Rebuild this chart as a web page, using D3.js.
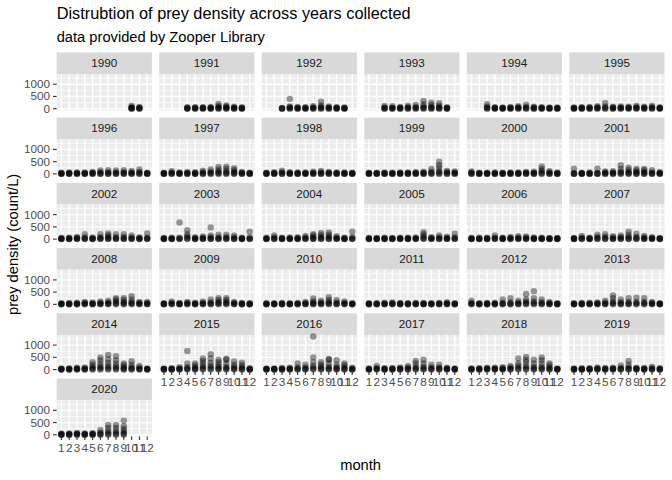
<!DOCTYPE html>
<html>
<head>
    <meta charset="utf-8">
    <title>Prey density by year</title>
    <script src="https://d3js.org/d3.v7.min.js"></script>
    <style>
        body { margin: 0; background: #fff; }
        text { font-family: "Liberation Sans", Arial, Helvetica, sans-serif; }
    </style>
</head>
<body>
    <svg id="chart" width="672" height="480"></svg>

    <script>
        // months on the x axis and y axis breaks
        const months = [1, 2, 3, 4, 5, 6, 7, 8, 9, 10, 11, 12];
        const yBreaks = [0, 500, 1000];
        const yMinorBreaks = [250, 750, 1250];
        const years = [1990, 1991, 1992, 1993, 1994, 1995, 1996, 1997, 1998, 1999, 2000,
                       2001, 2002, 2003, 2004, 2005, 2006, 2007, 2008, 2009, 2010,
                       2011, 2012, 2013, 2014, 2015, 2016, 2017, 2018, 2019, 2020];

        // prey density (count/L) samples, one array per month (Jan..Dec)
        const d1990 = [[],[],[],[],[],[],[],[],[],[0,5,15,30,60,120],[0,5,15,35,70],[]];
        const d1991 = [[],[],[],[0,5,15,30,55],[0,5,20,40,60],[0,10,20,35,60],[0,5,15,40,70],[0,10,30,60,110,190],[0,10,25,50,90,130],[0,5,20,45,80],[0,5,15,30,60],[]];
        const d1992 = [[],[],[0,5,10,25],[0,10,30,60,90,400],[0,5,20,40,70],[0,5,15,35,60],[0,10,25,50,100],[0,10,30,70,130,280],[0,10,25,50,90],[0,5,15,40,60],[0,5,15,30,50],[]];
        const d1993 = [[],[],[0,5,20,50,110],[0,5,20,40,100],[0,5,15,35,70],[0,10,25,60,120],[0,10,30,70,150],[0,15,40,90,180,320],[0,10,30,70,150,240],[0,10,30,60,120,220],[0,5,15,30,60],[]];
        const d1994 = [[],[],[0,10,40,80,180],[0,5,20,40,60],[0,5,15,30,50],[0,5,20,40,70],[0,10,30,60,100],[0,10,30,70,160],[0,5,20,45,80],[0,5,15,35,60],[0,5,15,30,50],[0,5,10,30,50]];
        const d1995 = [[0,5,15,30,50],[0,5,15,35,60],[0,5,20,40,70],[0,10,30,60,100],[0,10,40,90,230],[0,10,25,50,80],[0,10,25,50,90],[0,10,25,50,80],[0,10,30,60,120],[0,5,20,45,80],[0,10,30,60,120],[0,5,15,30,60]];
        const d1996 = [[0,5,15,30,50],[0,5,15,35,60],[0,5,20,40,60],[0,5,15,35,60],[0,10,25,50,80],[0,10,30,70,140],[0,10,30,70,150],[0,10,30,60,140],[0,10,35,70,150],[0,10,30,60,120],[0,10,40,80,180],[0,5,15,30,50]];
        const d1997 = [[0,5,15,30,50],[0,10,30,60,110],[0,5,20,40,60],[0,5,20,40,80],[0,5,15,35,70],[0,10,30,70,130],[0,15,40,90,180],[0,20,50,100,180,280],[0,20,50,100,200,290],[0,15,40,90,160,230],[0,10,25,50,80],[0,5,15,30,50]];
        const d1998 = [[0,5,15,30,50],[0,5,20,40,70],[0,10,30,70,130],[0,5,20,40,70],[0,5,15,35,60],[0,5,15,35,60],[0,10,25,50,90],[0,10,30,60,120],[0,10,25,50,80],[0,5,20,40,60],[0,5,15,35,60],[0,5,15,30,50]];
        const d1999 = [[0,5,15,30,50],[0,5,15,30,50],[0,5,15,35,60],[0,5,15,30,50],[0,5,20,40,60],[0,5,15,35,60],[0,10,20,40,70],[0,10,25,50,90],[0,15,40,90,200],[0,20,60,120,250,350,500],[0,10,40,80,120],[0,10,30,60,100]];
        const d2000 = [[0,10,30,60,100],[0,5,15,30,50],[0,5,15,30,50],[0,5,15,35,60],[0,5,15,30,50],[0,5,20,40,60],[0,5,15,35,60],[0,10,25,50,80],[0,10,25,50,90],[0,20,60,120,200,300],[0,10,30,60,110],[0,5,15,30,60]];
        const d2001 = [[0,5,15,30,210],[0,5,15,30,50],[0,5,15,30,60],[0,5,20,40,210],[0,10,30,60,100],[0,10,30,60,110],[0,20,50,100,200,350],[0,15,40,80,160,250],[0,10,35,70,140,200],[0,10,35,70,150,200],[0,10,30,60,150],[0,5,20,40,80]];
        const d2002 = [[0,5,15,30,50],[0,5,15,35,60],[0,10,25,50,90],[0,10,30,70,200],[0,5,20,40,70],[0,10,40,80,200],[0,15,40,90,160,230],[0,10,40,80,200],[0,10,40,90,200],[0,10,30,70,150],[0,5,20,40,80],[0,10,30,60,230]];
        const d2003 = [[0,5,15,30,50],[0,5,15,30,60],[0,10,30,60,680],[0,20,60,120,200,360],[0,5,20,40,80],[0,10,25,60,110],[0,10,30,80,150,480],[0,10,30,70,180],[0,10,35,80,180],[0,10,30,70,150],[0,5,15,35,60],[0,10,30,70,300]];
        const d2004 = [[0,5,15,30,60],[0,10,30,70,150],[0,5,15,35,60],[0,5,20,40,70],[0,5,20,40,80],[0,10,30,70,130],[0,10,35,80,150,200],[0,15,40,90,170,250],[0,15,40,100,180,270],[0,10,30,60,120],[0,5,15,35,60],[0,10,30,80,300]];
        const d2005 = [[0,5,15,30,50],[0,5,15,30,50],[0,5,15,35,60],[0,5,15,30,50],[0,5,20,40,60],[0,5,15,35,60],[0,10,20,40,70],[0,20,60,120,200,280],[0,10,25,50,80],[0,10,30,70,150],[0,10,25,50,100],[0,10,30,70,220]];
        const d2006 = [[0,5,15,30,50],[0,5,15,30,60],[0,5,15,35,60],[0,10,30,60,150],[0,5,15,35,60],[0,10,25,50,90],[0,10,30,60,120],[0,10,30,60,110],[0,5,20,40,70],[0,5,15,35,60],[0,5,15,30,50],[0,5,15,30,50]];
        const d2007 = [[0,5,15,30,50],[0,10,30,60,130],[0,5,15,35,60],[0,15,40,90,180],[0,15,40,100,200],[0,10,30,70,120],[0,10,35,80,150],[0,15,40,100,180,300],[0,15,40,90,220],[0,10,30,70,130],[0,10,25,50,80],[0,5,15,30,50]];
        const d2008 = [[0,5,15,30,50],[0,5,15,30,60],[0,5,20,40,70],[0,10,30,60,100],[0,5,20,40,80],[0,10,30,60,120],[0,15,40,80,150],[0,20,60,120,200,250],[0,15,50,100,180,250],[0,20,50,100,200,330],[0,10,30,60,100],[0,10,25,50,100]];
        const d2009 = [[0,5,15,30,50],[0,10,30,60,120],[0,5,15,35,60],[0,10,30,60,100],[0,5,20,40,70],[0,10,30,60,120],[0,15,40,90,200],[0,20,50,100,180,250],[0,20,50,100,180,250],[0,10,30,60,100],[0,5,15,35,60],[0,5,15,30,50]];
        const d2010 = [[0,5,15,30,50],[0,5,15,30,50],[0,5,15,35,60],[0,5,15,30,50],[0,5,20,40,60],[0,10,25,50,100],[0,10,30,70,120,240],[0,15,40,80,150],[0,20,50,100,180,290],[0,10,35,80,180],[0,10,30,60,120],[0,5,15,30,50]];
        const d2011 = [[0,5,15,30,50],[0,5,15,30,50],[0,5,20,40,70],[0,10,25,50,80],[0,5,15,35,60],[0,5,15,30,50],[0,5,20,40,60],[0,5,15,35,60],[0,5,15,30,50],[0,5,20,40,60],[0,10,25,50,90],[0,5,15,30,50]];
        const d2012 = [[0,10,30,60,150],[0,5,15,30,50],[0,5,15,35,60],[0,5,20,40,70],[0,10,30,60,200],[0,10,35,80,250],[0,10,30,70,150],[0,20,60,120,200,420],[0,20,60,120,250,540],[0,10,40,90,200],[0,10,25,50,100],[0,5,15,30,50]];
        const d2013 = [[0,5,15,30,50],[0,5,15,35,60],[0,5,20,40,70],[0,10,25,50,80],[0,10,30,70,150],[0,20,60,120,250,360],[0,15,40,90,200],[0,15,40,100,250],[0,15,50,100,270],[0,15,50,100,250],[0,10,30,60,100],[0,5,15,30,50]];
        const d2014 = [[0,5,15,30,50],[0,5,15,30,60],[0,10,25,50,80],[0,10,25,50,90],[0,20,60,120,200,300],[0,30,80,150,250,380,500],[0,30,90,170,280,420,600],[0,30,80,150,250,380,550],[0,15,50,100,180,250],[0,15,50,100,200,340],[0,10,30,80,150],[0,5,15,30,50]];
        const d2015 = [[0,5,15,30,50],[0,5,15,35,60],[0,10,25,50,100],[0,20,50,100,250,760],[0,15,40,90,170,250],[0,30,80,150,250,350,450],[0,30,90,170,280,450,630],[0,20,60,120,200,300,400],[0,20,60,120,250,400,440],[0,20,60,120,200,330],[0,15,40,90,180,280],[0,5,15,30,60]];
        const d2016 = [[0,5,15,30,50],[0,5,15,30,50],[0,5,20,40,70],[0,10,25,50,80],[0,15,40,90,250],[0,15,40,90,200],[0,30,80,160,300,500,1350],[0,20,60,120,200,300],[0,20,60,120,250,400,430],[0,15,50,100,200,380],[0,15,40,90,180,250],[0,5,20,40,80]];
        const d2017 = [[0,5,15,30,50],[0,10,30,60,150],[0,5,15,35,60],[0,5,20,40,70],[0,10,25,50,90],[0,10,35,80,150],[0,20,60,120,250,350],[0,20,60,120,250,400],[0,15,40,90,200],[0,15,40,90,200],[0,10,25,50,80],[0,5,15,30,50]];
        const d2018 = [[0,5,15,30,50],[0,5,15,35,60],[0,10,25,50,80],[0,10,25,50,80],[0,10,30,60,100],[0,15,40,90,150],[0,30,80,160,250,450],[0,30,80,160,300,400,520],[0,20,60,120,250,400],[0,20,60,120,250,380,500],[0,15,40,90,180,250],[0,5,15,30,50]];
        const d2019 = [[0,5,15,30,50],[0,5,15,30,60],[0,5,15,35,60],[0,10,25,50,90],[0,5,20,40,70],[0,10,25,50,80],[0,10,30,70,170],[0,15,40,90,200,350],[0,10,25,50,80],[0,5,20,40,70],[0,10,30,60,120],[0,5,15,30,60]];
        const d2020 = [[0,5,15,30,50],[0,5,15,35,60],[0,10,25,50,80],[0,5,15,35,60],[0,5,20,40,70],[0,15,40,90,200],[0,30,80,160,280,400],[0,30,80,160,280,400],[0,30,80,160,250,350,580],[],[],[]];

        const yearData = [d1990, d1991, d1992, d1993, d1994, d1995, d1996, d1997, d1998, d1999, d2000,
                          d2001, d2002, d2003, d2004, d2005, d2006, d2007, d2008, d2009, d2010,
                          d2011, d2012, d2013, d2014, d2015, d2016, d2017, d2018, d2019, d2020];

        // layout, roughly ggplot2 theme_grey at 96 dpi
        const W = 672, H = 480;
        const plotLeft = 56.7, plotRight = 664.5, plotTop = 52.4;
        const nCol = 6, gap = 7.33;
        const panelW = (plotRight - plotLeft - gap * (nCol - 1)) / nCol;
        const stripH = 21.6, panelH = 36.3;
        const rowPitch = stripH + panelH + gap;
        const nRow = Math.ceil(years.length / nCol);
        const tickLen = 3.67;

        const svg = d3.select('#chart');
        svg.append('rect').attr('width', W).attr('height', H).attr('fill', '#ffffff');

        const x = d3.scalePoint().domain(months).range([0, panelW]).padding(0.6);
        const yMax = d3.max(yearData, yd => d3.max(yd, m => d3.max(m) || 0));
        const y = d3.scaleLinear()
            .domain([-0.05 * yMax, 1.05 * yMax])
            .range([panelH, 0]);

        years.forEach((yr, i) => {
            const col = i % nCol, row = Math.floor(i / nCol);
            const px = plotLeft + col * (panelW + gap);
            const py = plotTop + row * rowPitch;
            const g = svg.append('g').attr('transform', `translate(${px},${py})`);

            // strip
            g.append('rect')
                .attr('width', panelW).attr('height', stripH)
                .attr('fill', '#d9d9d9');
            g.append('text')
                .attr('x', panelW / 2).attr('y', stripH / 2 + 4)
                .attr('text-anchor', 'middle')
                .attr('font-size', '11.7px')
                .attr('fill', '#1a1a1a')
                .text(yr);

            const p = g.append('g').attr('transform', `translate(0,${stripH})`);
            p.append('rect')
                .attr('width', panelW).attr('height', panelH)
                .attr('fill', '#ebebeb');

            // grid lines
            p.selectAll('.minor').data(yMinorBreaks.filter(v => y(v) >= 0)).join('line')
                .attr('x1', 0).attr('x2', panelW)
                .attr('y1', d => y(d)).attr('y2', d => y(d))
                .attr('stroke', '#ffffff').attr('stroke-width', 0.7);
            p.selectAll('.majorY').data(yBreaks).join('line')
                .attr('x1', 0).attr('x2', panelW)
                .attr('y1', d => y(d)).attr('y2', d => y(d))
                .attr('stroke', '#ffffff').attr('stroke-width', 1.4);
            p.selectAll('.majorX').data(months).join('line')
                .attr('x1', d => x(d)).attr('x2', d => x(d))
                .attr('y1', 0).attr('y2', panelH)
                .attr('stroke', '#ffffff').attr('stroke-width', 1.4);

            // points
            const pts = [];
            yearData[i].forEach((vals, mi) => vals.forEach(v => pts.push({ m: months[mi], v })));
            p.selectAll('circle').data(pts).join('circle')
                .attr('cx', d => x(d.m))
                .attr('cy', d => y(d.v))
                .attr('r', 3.2)
                .attr('fill', '#000000')
                .attr('fill-opacity', 0.4);

            // y axis on first column
            if (col === 0) {
                const ya = p.append('g');
                ya.selectAll('line').data(yBreaks).join('line')
                    .attr('x1', -tickLen).attr('x2', 0)
                    .attr('y1', d => y(d)).attr('y2', d => y(d))
                    .attr('stroke', '#333333').attr('stroke-width', 1.1);
                ya.selectAll('text').data(yBreaks).join('text')
                    .attr('x', -tickLen - 2.9)
                    .attr('y', d => y(d) + 4)
                    .attr('text-anchor', 'end')
                    .attr('font-size', '11.7px')
                    .attr('fill', '#4d4d4d')
                    .text(d => d);
            }

            // x axis where no panel sits below
            if (i + nCol >= years.length) {
                const xa = p.append('g').attr('transform', `translate(0,${panelH})`);
                xa.selectAll('line').data(months).join('line')
                    .attr('x1', d => x(d)).attr('x2', d => x(d))
                    .attr('y1', 0).attr('y2', tickLen)
                    .attr('stroke', '#333333').attr('stroke-width', 1.1);
                xa.selectAll('text').data(months).join('text')
                    .attr('x', d => x(d))
                    .attr('y', tickLen + 2.9 + 8.6)
                    .attr('text-anchor', 'middle')
                    .attr('font-size', '11.7px')
                    .attr('fill', '#4d4d4d')
                    .text(d => d);
            }
        });

        const plotBottom = plotTop + (nRow - 1) * rowPitch + stripH + panelH;

        // titles
        svg.append('text')
            .attr('x', plotLeft).attr('y', 19.3)
            .attr('font-size', '16.3px')
            .attr('fill', '#000000')
            .text('Distrubtion of prey density across years collected');
        svg.append('text')
            .attr('x', plotLeft).attr('y', 42.3)
            .attr('font-size', '14.7px')
            .attr('fill', '#000000')
            .text('data provided by Zooper Library');

        svg.append('text')
            .attr('x', (plotLeft + plotRight) / 2).attr('y', 470)
            .attr('text-anchor', 'middle')
            .attr('font-size', '14.7px')
            .attr('fill', '#000000')
            .text('month');

        svg.append('text')
            .attr('transform', `translate(17.5,${(plotTop + plotBottom) / 2}) rotate(-90)`)
            .attr('text-anchor', 'middle')
            .attr('font-size', '14.7px')
            .attr('fill', '#000000')
            .text('prey density (count/L)');
    </script>
</body>
</html>
